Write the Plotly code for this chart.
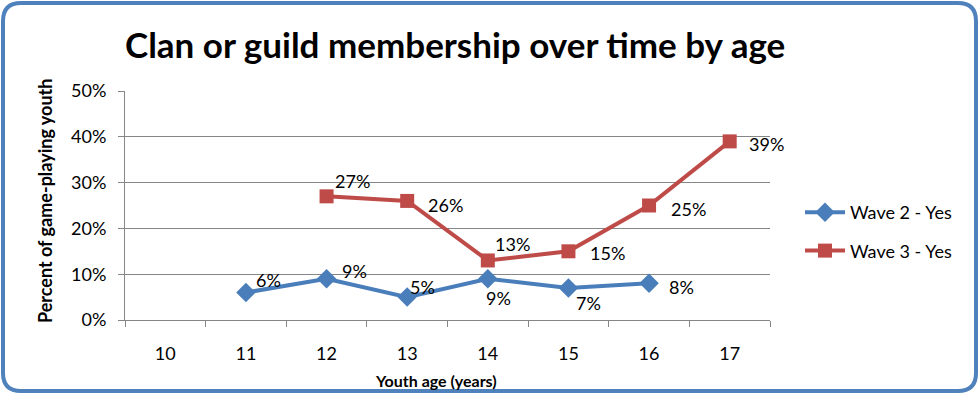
import plotly.graph_objects as go

ages = ["10", "11", "12", "13", "14", "15", "16", "17"]
wave2 = [None, 0.06, 0.09, 0.05, 0.09, 0.07, 0.08, None]
wave3 = [None, None, 0.27, 0.26, 0.13, 0.15, 0.25, 0.39]
wave2_labels = ["", "6%", "9%", "5%", "9%", "7%", "8%", ""]
wave3_labels = ["", "", "27%", "26%", "13%", "15%", "25%", "39%"]
y_ticks = [0, 0.1, 0.2, 0.3, 0.4, 0.5]
y_tick_text = ["0%", "10%", "20%", "30%", "40%", "50%"]

# style: data-label offsets from each marker, in screen pixels (dx right, dy down)
off2 = [(0, 0), (23, -13), (28, -8), (15, -10), (11, 19), (20, 15), (32, 4), (0, 0)]
off3 = [(0, 0), (0, 0), (26, -15), (38, 4), (25, -16), (39, 2), (39, 3), (37, 3)]

W, H = 980, 395
L, R, T, B = 125, 770, 91, 320
FONT = "Lato"

def px_x(px):
    return (px - L) / (R - L)

def px_y(py):
    return (B - py) / (B - T)

fig = go.Figure()
fig.add_trace(go.Scatter(
    x=ages, y=wave2, name="Wave 2 - Yes", mode="lines+markers", legendgroup="w2",
    line=dict(color="#4A7EBB", width=4),
    marker=dict(symbol="diamond", size=15, color="#4A7EBB"),
    cliponaxis=False,
))
fig.add_trace(go.Scatter(
    x=ages, y=wave3, name="Wave 3 - Yes", mode="lines+markers", legendgroup="w3",
    line=dict(color="#BE4B48", width=4),
    marker=dict(symbol="square", size=14, color="#BE4B48"),
    cliponaxis=False,
))

for vals, labels, offs in ((wave2, wave2_labels, off2), (wave3, wave3_labels, off3)):
    for i, (v, t, (dx, dy)) in enumerate(zip(vals, labels, offs)):
        if v is None:
            continue
        fig.add_annotation(x=i, y=v, xref="x", yref="y", text=t, showarrow=False,
                           xanchor="center", yanchor="middle",
                           xshift=dx, yshift=-dy, font=dict(size=18, family=FONT, color="#000000"))

# rounded border
x0, x1 = px_x(3), px_x(976)
y0, y1 = px_y(391), px_y(3)
rx = 18 / (R - L)
ry = 18 / (B - T)
path = (f"M {x0+rx},{y1} L {x1-rx},{y1} Q {x1},{y1} {x1},{y1-ry} "
        f"L {x1},{y0+ry} Q {x1},{y0} {x1-rx},{y0} L {x0+rx},{y0} "
        f"Q {x0},{y0} {x0},{y0+ry} L {x0},{y1-ry} Q {x0},{y1} {x0+rx},{y1} Z")
fig.add_shape(type="path", path=path, xref="paper", yref="paper",
              line=dict(color="#4F81BD", width=4), layer="below")

fig.add_annotation(text="<b>Clan or guild membership over time by age</b>",
                   x=px_x(455), y=px_y(44), xref="paper", yref="paper",
                   xanchor="center", yanchor="middle",
                   showarrow=False, font=dict(size=35, family=FONT, color="#000000"))
fig.add_annotation(text="<b>Percent of game-playing youth</b>",
                   x=px_x(45), y=px_y(201), xref="paper", yref="paper", textangle=-90,
                   xanchor="center", yanchor="middle",
                   showarrow=False, font=dict(size=18, family=FONT, color="#000000"))
fig.add_annotation(text="<b>Youth age (years)</b>",
                   x=px_x(436), y=px_y(380), xref="paper", yref="paper",
                   xanchor="center", yanchor="middle",
                   showarrow=False, font=dict(size=16, family=FONT, color="#000000"))

fig.update_layout(
    width=W, height=H,
    margin=dict(l=L, r=W - R, t=T, b=H - B, pad=0),
    paper_bgcolor="#FFFFFF", plot_bgcolor="#FFFFFF",
    showlegend=True,
    legend=dict(x=px_x(800), y=px_y(194), xanchor="left", yanchor="top",
                font=dict(size=18, family=FONT, color="#000000"),
                tracegroupgap=12, itemwidth=40, bgcolor="rgba(0,0,0,0)"),
    font=dict(family=FONT, color="#000000"),
)
fig.update_xaxes(type="category", categoryorder="array", categoryarray=ages,
                 range=[-0.5, 7.5], tickson="boundaries", ticks="outside",
                 ticklen=6, tickcolor="#868686", showline=True, linecolor="#868686",
                 linewidth=1, showgrid=False, zeroline=False,
                 tickfont=dict(size=18, family=FONT, color="#000000"), ticklabelstandoff=17)
fig.update_yaxes(range=[0, 0.5], tickvals=y_ticks, ticktext=y_tick_text,
                 ticks="outside", ticklen=6, tickcolor="#868686",
                 showline=True, linecolor="#868686", linewidth=1,
                 showgrid=True, gridcolor="#868686", gridwidth=1, zeroline=False,
                 tickfont=dict(size=18, family=FONT, color="#000000"), ticklabelstandoff=8)

fig.write_html("out.html", config={"displayModeBar": False},
               post_script="document.body.style.margin='0px';document.body.style.overflow='hidden';")
